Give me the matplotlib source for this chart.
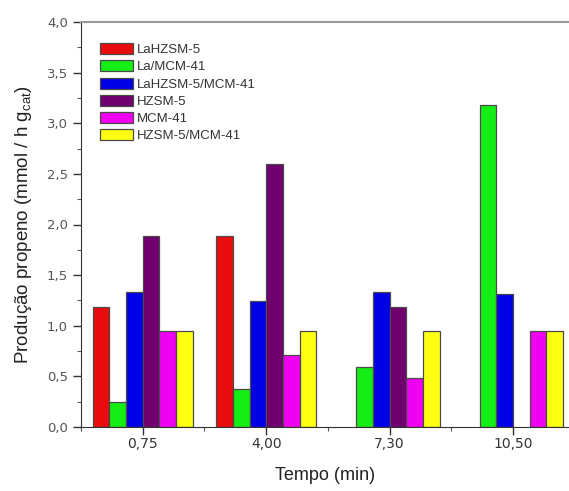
import numpy as np
import matplotlib
matplotlib.use("Agg")
import matplotlib.pyplot as plt
from matplotlib.ticker import MultipleLocator, FuncFormatter

# ---- data ----
tempos = ["0,75", "4,00", "7,30", "10,50"]
series_names = ["LaHZSM-5", "La/MCM-41", "LaHZSM-5/MCM-41", "HZSM-5", "MCM-41", "HZSM-5/MCM-41"]
lahzsm5 = [1.19, 1.89, np.nan, np.nan]
la_mcm41 = [0.25, 0.38, 0.59, 3.18]
lahzsm5_mcm41 = [1.33, 1.24, 1.33, 1.31]
hzsm5 = [1.89, 2.60, 1.19, np.nan]
mcm41 = [0.95, 0.71, 0.48, 0.95]
hzsm5_mcm41 = [0.95, 0.95, 0.95, 0.95]
series_values = [lahzsm5, la_mcm41, lahzsm5_mcm41, hzsm5, mcm41, hzsm5_mcm41]
colors = ["#E80C0C", "#14EE14", "#0000E6", "#700070", "#F000F0", "#FFFF14"]

fig = plt.figure(figsize=(5.69, 4.91), dpi=100)
ax = fig.add_axes([81/569, 64/491, 488/569, 405/491])

x = np.arange(len(tempos))
w = 0.135
n = len(series_values)
for i, (name, vals, c) in enumerate(zip(series_names, series_values, colors)):
    ax.bar(x + (i - (n - 1) / 2) * w, vals, width=w, color=c,
           edgecolor="#4a4a4a", linewidth=0.9, label=name, zorder=2)

ax.set_xlim(-0.5, 3.453)
ax.set_ylim(0, 4.0)
ax.set_xticks(x)
ax.set_xticklabels(tempos, fontsize=10, color="#333333", family="DejaVu Sans")
ax.xaxis.set_minor_locator(MultipleLocator(0.5))
ax.yaxis.set_major_locator(MultipleLocator(0.5))
ax.yaxis.set_minor_locator(MultipleLocator(0.25))
ax.yaxis.set_major_formatter(FuncFormatter(lambda v, p: f"{v:.1f}".replace(".", ",")))
for lab in ax.get_yticklabels():
    lab.set_family("DejaVu Sans")
ax.tick_params(axis="y", labelsize=9.5, labelcolor="#555555")
ax.tick_params(axis="both", which="major", direction="out", length=6, width=1, color="#333333")
ax.tick_params(axis="both", which="minor", direction="out", length=3, width=0.8, color="#555555")
ax.tick_params(axis="x", which="major", pad=1)

ax.spines["right"].set_visible(False)
ax.spines["top"].set_color("#9a9a9a")
ax.spines["top"].set_linewidth(1.5)
ax.spines["left"].set_color("#333333")
ax.spines["bottom"].set_color("#333333")

ax.set_xlabel("Tempo (min)", fontsize=13, family="Liberation Sans", color="#222222", labelpad=12)
ax.set_ylabel(r"Produção propeno (mmol / h g$_{\mathregular{cat}}$)", fontsize=13.5,
              family="Liberation Sans", color="#222222", labelpad=9)

leg = ax.legend(loc="upper left", bbox_to_anchor=(0.039, 0.948), frameon=False,
                prop={"family": "Liberation Sans", "size": 9.5},
                handlelength=2.5, handleheight=0.9, labelspacing=0.32,
                handletextpad=0.3, borderpad=0, borderaxespad=0)
for t in leg.get_texts():
    t.set_color("#333333")

fig.savefig("out.png", dpi=100)
